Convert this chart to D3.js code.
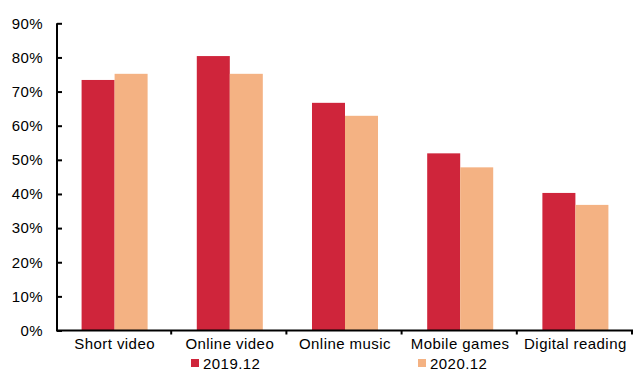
<!DOCTYPE html>
<html>
<head>
<meta charset="utf-8">
<script src="https://cdn.jsdelivr.net/npm/d3@7"></script>
<style>
  html, body { margin: 0; padding: 0; background: #fff; }
  svg { display: block; font-family: "Liberation Sans", Arial, sans-serif; }
</style>
</head>
<body>
<svg id="chart" width="633" height="372"></svg>
<script>
// Usage rate by application type
const categories = ["Short video", "Online video", "Online music", "Mobile games", "Digital reading"];
const seriesNames = ["2019.12", "2020.12"];
const values2019 = [73.4, 80.4, 66.7, 51.9, 40.3];
const values2020 = [75.2, 75.2, 62.9, 47.8, 36.8];
const yTicks = [0, 10, 20, 30, 40, 50, 60, 70, 80, 90];
const colors = ["#CF253B", "#F4B283"];

const svg = d3.select("#chart");
const margin = { left: 57, right: 0, top: 23.3, bottom: 41.5 };
const W = 633, H = 372;
const fontSize = 15;
const spacing = "0.45px";

const x = d3.scaleBand().domain(categories)
  .range([margin.left, W - margin.right]).paddingInner(0).paddingOuter(0);
const sub = d3.scaleBand().domain(seriesNames)
  .range([0, x.bandwidth()]).paddingInner(0).paddingOuter(0.745);
const y = d3.scaleLinear().domain([0, 90]).range([H - margin.bottom, margin.top]);

const series = [values2019, values2020];

// bars
seriesNames.forEach((name, si) => {
  svg.append("g").selectAll("rect")
    .data(categories.map((c, i) => ({ c, v: series[si][i] })))
    .join("rect")
    .attr("x", d => x(d.c) + sub(name))
    .attr("y", d => y(d.v))
    .attr("width", sub.bandwidth())
    .attr("height", d => y(0) - y(d.v))
    .attr("fill", colors[si]);
});

// y axis: ticks point into the plot
const yAxis = svg.append("g")
  .attr("transform", `translate(${margin.left},0)`)
  .call(d3.axisRight(y).tickValues(yTicks).tickSize(5).tickFormat(d => d + "%"));
yAxis.select(".domain").attr("d", `M0,${y(90)}V${y(0)}`).attr("stroke", "#000").attr("stroke-width", 2);
yAxis.selectAll(".tick line").attr("stroke", "#000").attr("stroke-width", 2);
yAxis.selectAll(".tick text")
  .attr("x", -14).attr("text-anchor", "end")
  .attr("font-size", fontSize).attr("fill", "#000")
  .attr("letter-spacing", spacing)
  .attr("font-family", "Liberation Sans, Arial, sans-serif");

// x axis: short ticks on category boundaries
const xAxisG = svg.append("g").attr("transform", `translate(0,${y(0)})`);
xAxisG.append("line")
  .attr("x1", margin.left - 1).attr("x2", W - margin.right)
  .attr("stroke", "#000").attr("stroke-width", 2);
const boundaries = categories.map(c => x(c)).concat([x(categories[categories.length - 1]) + x.bandwidth()]);
xAxisG.selectAll("line.b").data(boundaries.slice(1)).join("line")
  .attr("class", "b")
  .attr("x1", d => d - 1).attr("x2", d => d - 1)
  .attr("y1", 0).attr("y2", 4)
  .attr("stroke", "#000").attr("stroke-width", 2);
xAxisG.selectAll("text").data(categories).join("text")
  .attr("x", d => x(d) + x.bandwidth() / 2)
  .attr("y", 18.5)
  .attr("text-anchor", "middle")
  .attr("font-size", fontSize)
  .attr("letter-spacing", spacing)
  .attr("fill", "#000")
  .text(d => d);

// legend
const legendX = [191, 418];
seriesNames.forEach((name, i) => {
  const g = svg.append("g").attr("transform", `translate(${legendX[i]},359)`);
  g.append("rect").attr("width", 8).attr("height", 8).attr("fill", colors[i]);
  g.append("text").attr("x", 12).attr("y", 9.5)
    .attr("font-size", fontSize).attr("letter-spacing", spacing)
    .attr("fill", "#000").text(name);
});
</script>
</body>
</html>
